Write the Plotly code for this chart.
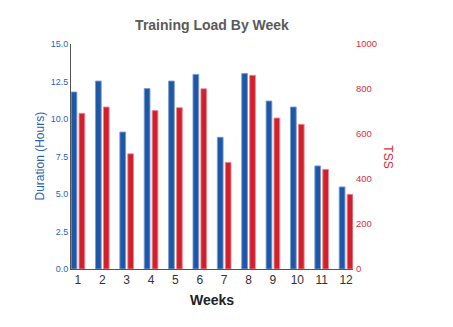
import plotly.graph_objects as go

weeks = list(range(1, 13))
week_labels = [str(w) for w in weeks]
duration_hours = [11.8, 12.53, 9.13, 12.03, 12.53, 12.97, 8.78, 13.03, 11.2, 10.8, 6.87, 5.47]
tss = [692, 720, 512, 704, 717, 801, 474, 861, 671, 643, 443, 332]

BLUE = "#1f57a7"
RED = "#d21f2c"
FONT = "Liberation Sans, Arial, sans-serif"

fig = go.Figure()
fig.add_trace(go.Bar(
    x=weeks, y=duration_hours, name="Duration (Hours)",
    marker=dict(color=BLUE, line=dict(color="rgba(120,155,210,0.9)", width=1)),
    width=0.235, offset=-0.28, yaxis="y",
))
fig.add_trace(go.Bar(
    x=weeks, y=tss, name="TSS",
    marker=dict(color=RED, line=dict(color="rgba(235,140,145,0.9)", width=1)),
    width=0.235, offset=0.045, yaxis="y2",
))

fig.update_layout(
    width=453, height=327,
    margin=dict(l=71, r=100, t=44, b=58),
    paper_bgcolor="white", plot_bgcolor="white",
    showlegend=False,
    font=dict(family=FONT),
    title=dict(text="<b>Training Load By Week</b>", x=0.5, xref="paper", xanchor="center",
               y=1 - 25 / 327, yanchor="middle", font=dict(size=14, color="#5a5a5a")),
    xaxis=dict(
        range=[0.715, 12.285], tickmode="array", tickvals=weeks, ticktext=week_labels,
        showgrid=False, zeroline=False, showline=True, linecolor="#555", linewidth=1,
        ticks="", tickfont=dict(size=12, color="#333"),
        title=dict(text="<b>Weeks</b>", font=dict(size=14, color="#222"), standoff=8),
    ),
    yaxis=dict(
        range=[0, 15], dtick=2.5, tick0=0, tickformat=".1f",
        showgrid=False, zeroline=False, showline=True, linecolor="#555", linewidth=1,
        ticks="", tickfont=dict(size=9, color="#2f5fae"),
    ),
    yaxis2=dict(
        range=[0, 1000], dtick=200, tick0=0, overlaying="y", side="right",
        showgrid=False, zeroline=False, showline=False, ticks="",
        tickfont=dict(size=9.5, color="#d9303a"), ticklabelstandoff=2,
    ),
    annotations=[
        dict(text="Duration (Hours)", xref="paper", yref="paper", x=(39 - 71) / 282.3, y=0.5,
             xanchor="center", yanchor="middle", textangle=-90, showarrow=False,
             font=dict(size=12, color="#2f5fae")),
        dict(text="TSS", xref="paper", yref="paper", x=(388.5 - 71) / 282.3, y=0.5,
             xanchor="center", yanchor="middle", textangle=90, showarrow=False,
             font=dict(size=12, color="#d9303a")),
    ],
)

fig.write_html("out.html")
